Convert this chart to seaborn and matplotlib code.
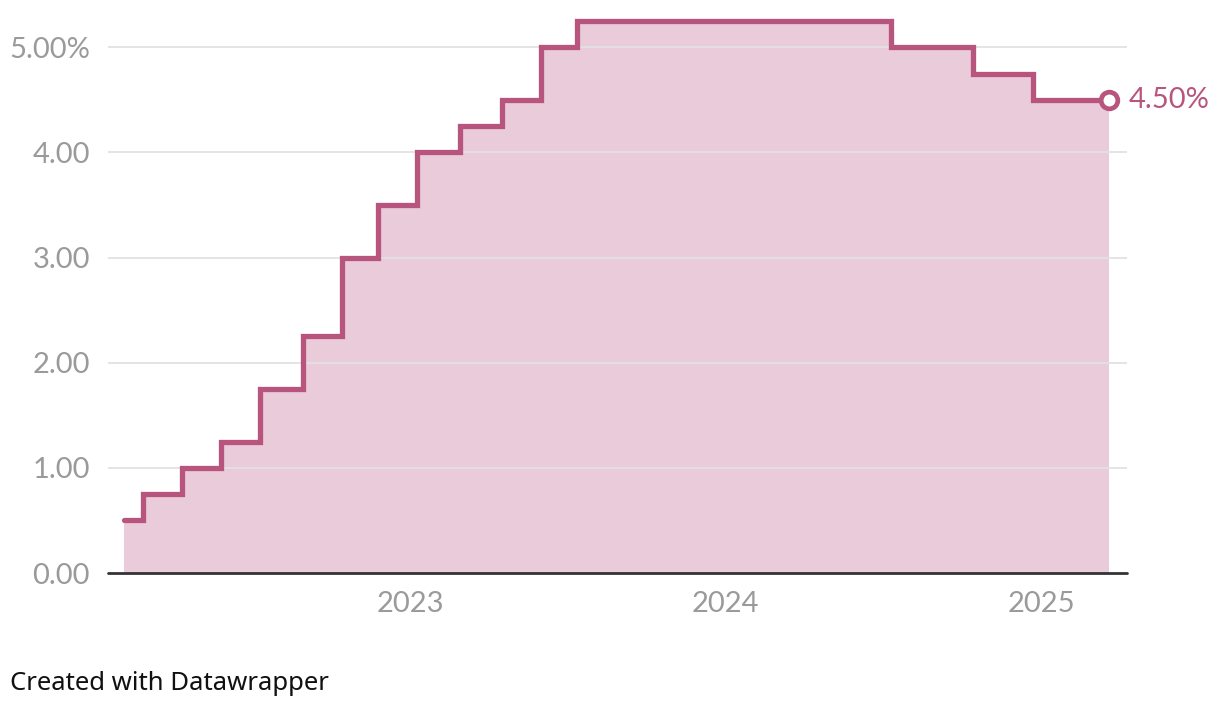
import pandas as pd
import matplotlib.pyplot as plt
import seaborn as sns

# Bank Rate at each MPC decision
dates = ["2022-02-03", "2022-03-17", "2022-05-05", "2022-06-16", "2022-08-04",
         "2022-09-22", "2022-11-03", "2022-12-15", "2023-02-02", "2023-03-23",
         "2023-05-11", "2023-06-22", "2023-08-03", "2023-09-21", "2023-11-02",
         "2023-12-14", "2024-02-01", "2024-03-21", "2024-05-09", "2024-06-20",
         "2024-08-01", "2024-09-19", "2024-11-07", "2025-02-06", "2025-03-20"]
rates = [0.50, 0.75, 1.00, 1.25, 1.75, 2.25, 3.00, 3.50, 4.00, 4.25,
         4.50, 5.00, 5.25, 5.25, 5.25, 5.25, 5.25, 5.25, 5.25, 5.25,
         5.00, 5.00, 4.75, 4.50, 4.50]
y_ticks = [0, 1, 2, 3, 4, 5]
y_labels = ["0.00", "1.00", "2.00", "3.00", "4.00", "5.00%"]
x_ticks = ["2023-01-01", "2024-01-01", "2025-01-01"]
x_labels = ["2023", "2024", "2025"]

df = pd.DataFrame({"date": pd.to_datetime(dates), "rate": rates})

line_col = "#b8557f"
fill_col = "#e9cbd9"
grey = "#9a9a9a"

sns.set_style("white")
plt.rcParams["font.family"] = ["Lato", "DejaVu Sans"]

fig = plt.figure(figsize=(12.2, 7.1), dpi=100)
ax = fig.add_axes([108 / 1220, 137 / 710, 1019 / 1220, 552 / 710])

ax.fill_between(df["date"], df["rate"], 0, step="mid", color=fill_col, lw=0, zorder=1)
sns.lineplot(data=df, x="date", y="rate", drawstyle="steps-mid", color=line_col,
             linewidth=3.8, solid_joinstyle="miter", solid_capstyle="round",
             ax=ax, zorder=3, clip_on=False)
ax.plot(df["date"].iloc[-1], df["rate"].iloc[-1], "o", ms=12, mfc="white",
        mec=line_col, mew=3.4, zorder=4, clip_on=False)
ax.annotate("4.50%", (df["date"].iloc[-1], df["rate"].iloc[-1]), xytext=(14, 0),
            textcoords="offset points", va="center", ha="left", fontsize=21,
            color=line_col, annotation_clip=False)

ax.set_xlim(pd.Timestamp("2022-01-15"), pd.Timestamp("2025-04-10"))
ax.set_ylim(0, 5.25)
ax.set_yticks(y_ticks)
ax.set_yticklabels(y_labels)
ax.set_xticks(pd.to_datetime(x_ticks))
ax.set_xticklabels(x_labels)
ax.tick_params(axis="both", length=0, labelsize=21, labelcolor=grey)
ax.tick_params(axis="y", pad=13)
ax.tick_params(axis="x", pad=13)

for v in y_ticks[1:]:
    ax.axhline(v, color="#e2e2e2", lw=1.3, zorder=2)
ax.axhline(0, color="#333333", lw=2, zorder=5, clip_on=False)

for s in ax.spines.values():
    s.set_visible(False)
ax.set_xlabel("")
ax.set_ylabel("")

fig.text(10 / 1220, 1 - 683 / 710, "Created with Datawrapper", fontsize=18.5,
         color="#111111", va="center", ha="left", family=["Noto Sans", "DejaVu Sans"])

plt.savefig("out.png", dpi=100)
